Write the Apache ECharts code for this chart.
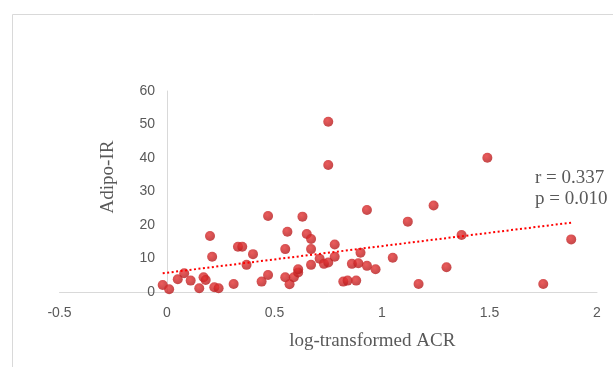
<!DOCTYPE html>
<html>
<head>
<meta charset="utf-8">
<script src="https://cdn.jsdelivr.net/npm/echarts@6/dist/echarts.min.js"></script>
<style>
	html, body { margin: 0; padding: 0; background: #fff; }
	#chart { width: 613px; height: 367px; }
</style>
</head>
<body>
<div id="chart"></div>
<script>
// log-transformed ACR
var acr = [-0.02, 0.01, 0.05, 0.08, 0.11, 0.15, 0.17, 0.18, 0.20, 0.21, 0.22, 0.24, 0.31, 0.33, 0.35, 0.37, 0.40,
	0.44, 0.47, 0.47, 0.55, 0.55, 0.56, 0.57, 0.59, 0.61, 0.61, 0.63, 0.65, 0.67, 0.67, 0.67, 0.71, 0.73, 0.75, 0.75, 0.75,
	0.78, 0.78, 0.82, 0.84, 0.86, 0.88, 0.89, 0.90, 0.93, 0.93, 0.97, 1.05, 1.12, 1.17, 1.24, 1.30, 1.37, 1.49, 1.75, 1.88];
// Adipo-IR
var adipo = [2.1, 0.8, 3.8, 5.6, 3.4, 1.1, 4.4, 3.6, 16.7, 10.5, 1.4, 1.1, 2.4, 13.5, 13.5, 8.1, 11.3,
	3.1, 22.7, 5.1, 12.8, 4.4, 18.0, 2.3, 4.4, 5.8, 6.8, 22.5, 17.3, 15.8, 12.8, 8.1, 9.9, 8.4, 8.8, 50.8, 37.9,
	14.2, 10.5, 3.1, 3.4, 8.4, 3.4, 8.6, 11.7, 24.5, 7.8, 6.8, 10.2, 21.0, 2.4, 25.8, 7.4, 17.0, 40.1, 2.4, 15.7];
// linear trendline ends
var trendX = [-0.02, 1.88];
var trendY = [5.6, 20.7];
var statText = ["r = 0.337", "p = 0.010"];

var axisGray = "#595959";
var lineGray = "#d9d9d9";

var points = acr.map(function (x, i) {
	return [x, adipo[i]];
});
var trend = trendX.map(function (x, i) {
	return [x, trendY[i]];
});

var myChart = echarts.init(document.getElementById("chart"), null, { renderer: "canvas" });
var option = {
	animation: false,
	grid: {
		left: 59.5,
		right: 16,
		top: 91,
		bottom: 75,
		outerBoundsMode: "none"
	},
	xAxis: {
		type: "value",
		min: -0.5,
		max: 2,
		interval: 0.5,
		splitLine: { show: false },
		axisTick: { show: false },
		axisLine: { lineStyle: { color: lineGray, width: 1 } },
		axisLabel: { color: axisGray, fontFamily: "Liberation Sans", fontSize: 14, margin: 14 },
		name: "log-transformed ACR",
		nameLocation: "middle",
		nameGap: 40,
		nameTextStyle: {
			color: axisGray,
			fontFamily: "Liberation Serif",
			fontSize: 19,
			padding: [0, 0, 0, 88]
		}
	},
	yAxis: {
		type: "value",
		min: 0,
		max: 60,
		interval: 10,
		// the vertical axis crosses at x = 0, a quarter of the way in
		offset: -107.5,
		splitLine: { show: false },
		axisTick: { show: false },
		axisLine: { show: true, onZero: false, lineStyle: { color: lineGray, width: 1 } },
		axisLabel: { color: axisGray, fontFamily: "Liberation Sans", fontSize: 14, margin: 12 },
		name: "Adipo-IR",
		nameLocation: "middle",
		nameGap: 49,
		nameRotate: 90,
		nameTextStyle: {
			color: axisGray,
			fontFamily: "Liberation Serif",
			fontSize: 19,
			padding: [0, 0, 0, 29]
		}
	},
	graphic: [
		{
			type: "rect",
			left: 10,
			top: 12,
			shape: { width: 700, height: 500 },
			style: { fill: "none", stroke: lineGray, lineWidth: 1 },
			silent: true
		},
		{
			type: "text",
			left: 535,
			top: 168,
			style: {
				text: statText.join("\n"),
				fill: axisGray,
				font: "19px 'Liberation Serif'",
				lineHeight: 21
			}
		}
	],
	series: [
		{
			type: "line",
			data: trend,
			symbol: "none",
			lineStyle: { color: "#ff0000", width: 2, type: [2, 2.5] },
			z: 3
		},
		{
			type: "scatter",
			data: points,
			symbolSize: 10,
			itemStyle: {
				color: new echarts.graphic.RadialGradient(0.4, 0.35, 0.7, [
					{ offset: 0, color: "#e63333" },
					{ offset: 1, color: "#b3191b" }
				])
			},
			z: 2
		}
	]
};
myChart.setOption(option);
</script>
</body>
</html>
